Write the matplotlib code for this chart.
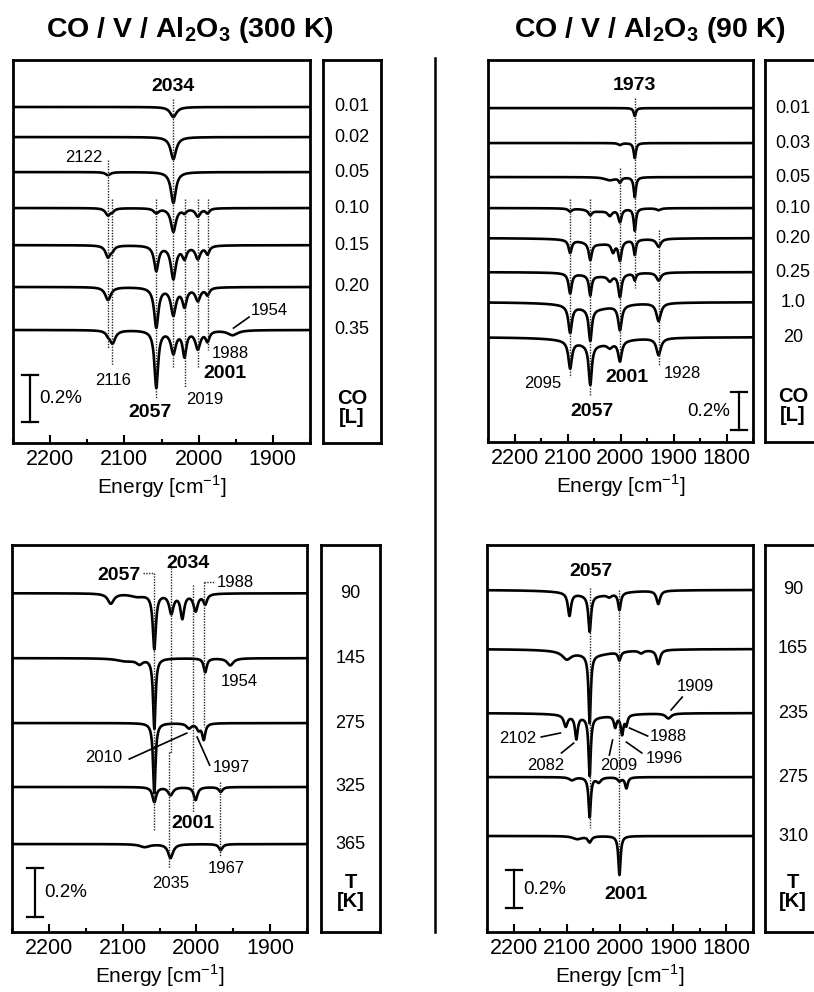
import numpy as np
import matplotlib.pyplot as plt
from matplotlib.lines import Line2D

plt.rcParams['font.family'] = ['Liberation Sans', 'DejaVu Sans']
plt.rcParams['mathtext.fontset'] = 'custom'
plt.rcParams['mathtext.rm'] = 'Liberation Sans'
plt.rcParams['mathtext.bf'] = 'Liberation Sans:bold'

W, H = 814, 992

# CO dosing at 300 K: exposure [L], trace offset [%], peaks (position, depth [%], hwhm [cm-1])
dose_300 = ['0.01', '0.02', '0.05', '0.10', '0.15', '0.20', '0.35']
offset_300 = [1.430, 1.302, 1.153, 1.000, 0.842, 0.664, 0.481]
peaks_300 = [
    [(2034, 0.043, 5)],
    [(2034, 0.094, 4.5)],
    [(2122, 0.013, 4), (2034, 0.132, 4)],
    [(2122, 0.03, 4), (2116, 0.01, 3), (2057, 0.02, 4), (2034, 0.10, 4),
     (2019, 0.017, 3), (2001, 0.034, 4), (1988, 0.02, 3)],
    [(2122, 0.05, 4), (2116, 0.015, 3), (2057, 0.106, 3.5), (2034, 0.14, 4),
     (2019, 0.05, 3.5), (2001, 0.055, 4), (1988, 0.034, 3)],
    [(2122, 0.055, 4.5), (2057, 0.17, 3.5), (2034, 0.115, 4),
     (2019, 0.077, 3.5), (2001, 0.055, 4), (1988, 0.03, 3)],
    [(2122, 0.013, 3), (2116, 0.055, 4.5), (2057, 0.243, 3), (2034, 0.094, 4),
     (2019, 0.106, 3), (2001, 0.077, 4), (1988, 0.043, 3), (1954, 0.021, 8)],
]

# CO dosing at 90 K
dose_90 = ['0.01', '0.03', '0.05', '0.10', '0.20', '0.25', '1.0', '20']
offset_90 = [1.757, 1.573, 1.394, 1.231, 1.073, 0.894, 0.736, 0.552]
peaks_90 = [
    [(1973, 0.042, 2.5)],
    [(2001, 0.01, 4), (1973, 0.079, 2.5)],
    [(2020, 0.016, 12), (2001, 0.026, 3), (1973, 0.105, 2.5)],
    [(2095, 0.016, 4), (2057, 0.026, 4), (2040, 0.016, 25), (2020, 0.03, 5),
     (2001, 0.068, 3.5), (1973, 0.116, 2.5), (1928, 0.01, 5)],
    [(2095, 0.068, 3.5), (2057, 0.089, 3.5), (2040, 0.03, 40), (2014, 0.05, 4),
     (2001, 0.1, 3.5), (1973, 0.079, 2.5), (1928, 0.042, 5)],
    [(2095, 0.105, 3.5), (2057, 0.105, 3), (2040, 0.02, 40), (2020, 0.03, 5),
     (2001, 0.12, 3.5), (1973, 0.037, 2.5), (1928, 0.042, 5)],
    [(2095, 0.142, 4), (2057, 0.168, 3.5), (2050, 0.035, 50), (2001, 0.13, 4),
     (1928, 0.095, 5)],
    [(2095, 0.142, 4), (2057, 0.21, 3.5), (2050, 0.04, 50), (2020, 0.025, 6),
     (2001, 0.105, 4), (1928, 0.089, 5)],
]

# annealing after 300 K dosing: temperature [K]
temp_300 = ['90', '145', '275', '325', '365']
offset_t300 = [1.383, 1.118, 0.853, 0.592, 0.359]
peaks_t300 = [
    [(2116, 0.041, 5), (2080, 0.012, 12), (2057, 0.224, 2.5), (2034, 0.078, 3.5),
     (2019, 0.098, 3), (2001, 0.069, 3.5), (1988, 0.041, 3)],
    [(2095, 0.012, 15), (2077, 0.02, 5), (2057, 0.286, 2), (1988, 0.057, 2.5),
     (1954, 0.029, 5)],
    [(2057, 0.286, 2), (2010, 0.02, 4), (1997, 0.025, 3), (1990, 0.065, 2.5)],
    [(2057, 0.061, 3), (2035, 0.033, 4), (2001, 0.053, 3), (1967, 0.02, 3)],
    [(2070, 0.012, 8), (2035, 0.057, 4), (1967, 0.025, 3)],
]

# annealing after 90 K dosing
temp_90 = ['90', '165', '235', '275', '310']
offset_t90 = [1.8, 1.489, 1.152, 0.815, 0.505]
peaks_t90 = [
    [(2095, 0.12, 3.5), (2057, 0.19, 3), (2050, 0.03, 50), (2020, 0.015, 5),
     (2001, 0.09, 3), (1928, 0.07, 4)],
    [(2100, 0.04, 10), (2057, 0.36, 2.5), (2050, 0.03, 50), (2001, 0.045, 3),
     (1960, 0.015, 5), (1928, 0.075, 4)],
    [(2102, 0.06, 4), (2082, 0.12, 3), (2057, 0.31, 2.5), (2050, 0.02, 50),
     (2009, 0.06, 3), (1996, 0.1, 3), (1988, 0.05, 2.5), (1909, 0.026, 6)],
    [(2090, 0.016, 6), (2057, 0.21, 2.5), (2040, 0.026, 5), (2001, 0.02, 4),
     (1988, 0.058, 3)],
    [(2080, 0.016, 10), (2057, 0.032, 4), (2001, 0.205, 2.5)],
]


def spectrum(nu, peaks):
    y = np.zeros_like(nu)
    for c, d, w in peaks:
        y -= d / (1 + ((nu - c) / w) ** 2)
    return y


def px_rect(l, t, r, b):
    return [l / W, 1 - b / H, (r - l) / W, (b - t) / H]


fig = plt.figure(figsize=(W / 100, H / 100), dpi=100)


def spec_panel(rect, xlim, ylim, offsets, peaks, ticks):
    ax = fig.add_axes(rect)
    nu = np.arange(xlim[1], xlim[0] + 0.5, 0.5)
    for off, pk in zip(offsets, peaks):
        ax.plot(nu, off + spectrum(nu, pk), color='black', lw=1.9)
    ax.set_xlim(xlim)
    ax.set_ylim(ylim)
    ax.set_xticks(ticks)
    ax.set_xticks(np.arange(ticks[-1] - 50, ticks[0] + 51, 100), minor=True)
    ax.set_yticks([])
    ax.tick_params(axis='x', which='major', direction='in', length=6, width=1.5,
                   labelsize=15.5, pad=4)
    ax.tick_params(axis='x', which='minor', direction='in', length=3, width=1.5)
    for s in ax.spines.values():
        s.set_linewidth(2)
    ax.set_xlabel('Energy [cm$^{-1}$]', fontsize=15, labelpad=3)
    return ax


def label_box(rect, ylim, offsets, labels, unit, xc=0.5):
    ax = fig.add_axes(rect)
    ax.set_xlim(0, 1)
    ax.set_ylim(ylim)
    ax.set_xticks([])
    ax.set_yticks([])
    for s in ax.spines.values():
        s.set_linewidth(2)
    for off, lab in zip(offsets, labels):
        ax.text(xc, off, lab, ha='center', va='center', fontsize=13)
    ax.text(xc, unit[0], unit[1], ha='center', va='top', fontsize=14.5,
            fontweight='bold', linespacing=1.0)
    return ax


def dotted(ax, x, y0, y1):
    ax.plot([x, x], [y0, y1], color='0.15', lw=1.0, ls=(0, (1, 1)))


def leader(ax, p0, p1):
    ax.plot([p0[0], p1[0]], [p0[1], p1[1]], color='black', lw=1.2)


def scale_bar(ax, x, y0, dx, text, side):
    ax.plot([x, x], [y0, y0 + 0.2], color='black', lw=1.6)
    for yy in (y0, y0 + 0.2):
        ax.plot([x + dx, x - dx], [yy, yy], color='black', lw=1.6)
    if side == 'right':
        ax.text(x - dx - 2, y0 + 0.1, text, ha='left', va='center', fontsize=13.5)
    else:
        ax.text(x + dx + 2, y0 + 0.1, text, ha='right', va='center', fontsize=13.5)


def lab(ax, x, y, s, bold=False, ha='center'):
    ax.text(x, y, s, ha=ha, va='center', fontsize=14 if bold else 12,
            fontweight='bold' if bold else 'normal')


# ---- top left: 300 K dosing
ylim_a = (0, 1.63)
ax = spec_panel(px_rect(13, 60, 310, 443), (2250, 1850), ylim_a, offset_300,
                peaks_300, [2200, 2100, 2000, 1900])
dotted(ax, 2034, 1.464, 0.319)
dotted(ax, 2122, 1.204, 0.404)
dotted(ax, 2116, 1.038, 0.332)
dotted(ax, 2057, 1.038, 0.191)
dotted(ax, 2019, 1.038, 0.238)
dotted(ax, 2001, 1.038, 0.319)
dotted(ax, 1988, 1.038, 0.396)
lab(ax, 2034, 1.519, '2034', True)
lab(ax, 2155, 1.217, '2122')
lab(ax, 2115, 0.264, '2116')
lab(ax, 2065, 0.128, '2057', True)
lab(ax, 1992, 0.187, '2019')
lab(ax, 1965, 0.294, '2001', True)
lab(ax, 1957, 0.383, '1988')
lab(ax, 1905, 0.566, '1954')
leader(ax, (1953, 0.489), (1932, 0.536))
scale_bar(ax, 2227, 0.089, 11, '0.2%', 'right')
label_box(px_rect(323, 60, 381, 443), ylim_a, offset_300, dose_300,
          (0.23, 'CO\n[L]'))

# ---- top right: 90 K dosing
ylim_b = (0, 2.01)
ax = spec_panel(px_rect(488, 60, 753, 442), (2250, 1750), ylim_b, offset_90,
                peaks_90, [2200, 2100, 2000, 1900, 1800])
dotted(ax, 1973, 1.81, 0.81)
dotted(ax, 2095, 1.278, 0.342)
dotted(ax, 2057, 1.278, 0.247)
dotted(ax, 2001, 1.441, 0.447)
dotted(ax, 1928, 1.115, 0.405)
lab(ax, 1973, 1.878, '1973', True)
lab(ax, 2146, 0.31, '2095')
lab(ax, 2054, 0.158, '2057', True)
lab(ax, 1988, 0.342, '2001', True)
lab(ax, 1883, 0.363, '1928')
scale_bar(ax, 1776, 0.063, 15, '0.2%', 'left')
label_box(px_rect(765, 60, 830, 442), ylim_b, offset_90, dose_90,
          (0.29, 'CO\n[L]'), xc=0.43)

# ---- bottom left: annealing, 300 K
ylim_c = (0, 1.58)
ax = spec_panel(px_rect(12, 545, 307, 932), (2250, 1850), ylim_c, offset_t300,
                peaks_t300, [2200, 2100, 2000, 1900])
dotted(ax, 2057, 1.465, 0.416)
ax.plot([2073, 2057], [1.465, 1.465], color='0.15', lw=1.0, ls=(0, (1, 1)))
dotted(ax, 2034, 1.497, 0.734)
ax.plot([2034, 2037], [0.734, 0.734], color='0.15', lw=1.0, ls=(0, (1, 1)))
dotted(ax, 2037, 0.734, 0.261)
dotted(ax, 2004, 1.416, 0.49)
dotted(ax, 1989, 1.428, 0.836)
ax.plot([1989, 1975], [1.428, 1.428], color='0.15', lw=1.0, ls=(0, (1, 1)))
dotted(ax, 1968, 0.612, 0.306)
lab(ax, 2075, 1.457, '2057', True, ha='right')
lab(ax, 2012, 1.506, '2034', True)
lab(ax, 1973, 1.428, '1988', ha='left')
lab(ax, 1942, 1.024, '1954')
lab(ax, 2126, 0.714, '2010')
leader(ax, (2091, 0.706), (2013, 0.812))
lab(ax, 1953, 0.673, '1997')
leader(ax, (1982, 0.681), (1999, 0.796))
lab(ax, 2004, 0.445, '2001', True)
lab(ax, 2035, 0.2, '2035')
lab(ax, 1959, 0.261, '1967')
scale_bar(ax, 2219, 0.061, 11, '0.2%', 'right')
label_box(px_rect(321, 545, 380, 932), ylim_c, offset_t300, temp_300,
          (0.24, 'T\n[K]'))

# ---- bottom right: annealing, 90 K
ylim_d = (0, 2.036)
ax = spec_panel(px_rect(487, 545, 753, 932), (2250, 1750), ylim_d, offset_t90,
                peaks_t90, [2200, 2100, 2000, 1900, 1800])
dotted(ax, 2057, 1.81, 0.547)
dotted(ax, 2001, 1.8, 0.3)
lab(ax, 2055, 1.894, '2057', True)
lab(ax, 1858, 1.294, '1909')
leader(ax, (1904, 1.168), (1883, 1.236))
lab(ax, 2192, 1.02, '2102')
leader(ax, (2148, 1.026), (2112, 1.047))
lab(ax, 1910, 1.026, '1988')
leader(ax, (1948, 1.031), (1982, 1.073))
lab(ax, 2140, 0.878, '2082')
leader(ax, (2110, 0.942), (2087, 0.994))
lab(ax, 2003, 0.878, '2009')
leader(ax, (2020, 0.931), (2014, 1.01))
lab(ax, 1917, 0.915, '1996')
leader(ax, (1959, 0.942), (1988, 0.999))
lab(ax, 1988, 0.195, '2001', True)
scale_bar(ax, 2199, 0.126, 15, '0.2%', 'right')
label_box(px_rect(765, 545, 830, 932), ylim_d, offset_t90, temp_90,
          (0.31, 'T\n[K]'), xc=0.43)

# titles and separator
fig.text(190 / W, 1 - 30 / H, r'CO / V / Al$_\mathbf{2}$O$_\mathbf{3}$ (300 K)',
         ha='center', va='center', fontsize=20.5, fontweight='bold')
fig.text(650 / W, 1 - 30 / H, r'CO / V / Al$_\mathbf{2}$O$_\mathbf{3}$ (90 K)',
         ha='center', va='center', fontsize=20.5, fontweight='bold')
fig.add_artist(Line2D([435 / W, 435 / W], [1 - 58 / H, 1 - 932 / H],
                      color='black', lw=1.8))

fig.savefig('out.png', dpi=100)
